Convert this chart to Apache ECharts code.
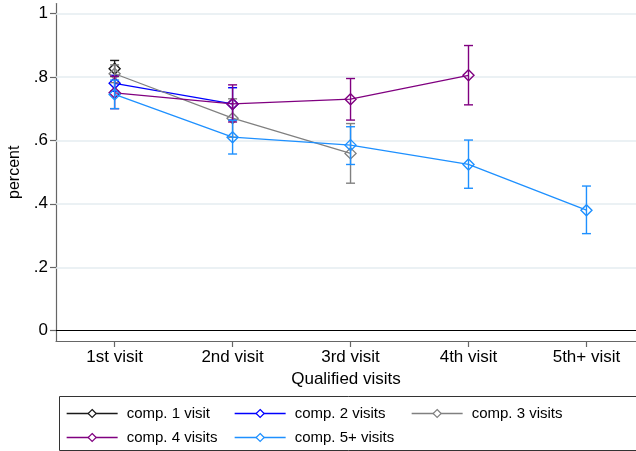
<!DOCTYPE html>
<html>
<head>
<meta charset="utf-8">
<script src="https://cdn.jsdelivr.net/npm/echarts@6/dist/echarts.min.js"></script>
<style>html,body{margin:0;padding:0;background:#fff;}#c{width:636px;height:451px;}</style>
</head>
<body>
<div id="c"></div>
<script>
const categories = ['1st visit', '2nd visit', '3rd visit', '4th visit', '5th+ visit'];
const yTicks = [0, 0.2, 0.4, 0.6, 0.8, 1];
const yTickLabels = ['0', '.2', '.4', '.6', '.8', '1'];

const seriesNames = ['comp. 1 visit', 'comp. 2 visits', 'comp. 3 visits', 'comp. 4 visits', 'comp. 5+ visits'];
const seriesColors = ['#1a1a1a', '#0000ff', '#808080', '#800080', '#1e90ff'];

const comp1 = [0.826];
const comp1Lo = [0.800];
const comp1Hi = [0.852];

const comp2 = [0.780, 0.715];
const comp2Lo = [0.755, 0.664];
const comp2Hi = [0.805, 0.766];

const comp3 = [0.810, 0.670, 0.559];
const comp3Lo = [0.782, 0.610, 0.465];
const comp3Hi = [0.838, 0.731, 0.653];

const comp4 = [0.750, 0.715, 0.730, 0.805];
const comp4Lo = [0.700, 0.658, 0.664, 0.712];
const comp4Hi = [0.802, 0.775, 0.795, 0.899];

const comp5 = [0.745, 0.610, 0.585, 0.524, 0.380];
const comp5Lo = [0.700, 0.557, 0.524, 0.449, 0.306];
const comp5Hi = [0.790, 0.663, 0.643, 0.601, 0.456];

const means = [comp1, comp2, comp3, comp4, comp5];
const lows = [comp1Lo, comp2Lo, comp3Lo, comp4Lo, comp5Lo];
const highs = [comp1Hi, comp2Hi, comp3Hi, comp4Hi, comp5Hi];

const FONT = 'Liberation Sans, Arial, sans-serif';
const chart = echarts.init(document.getElementById('c'), null, {renderer: 'canvas'});

const series = [];
series.push({
  type: 'line', data: [], silent: true, z: 1, symbol: 'none',
  markLine: {
    silent: true, symbol: 'none', label: {show: false},
    data: yTicks.map(v => ({yAxis: v, lineStyle: {color: v === 0 ? '#000' : '#e4edf0', width: v === 0 ? 1.2 : 1.5, type: 'solid'}}))
  }
});

for (let s = 0; s < 5; s++) {
  const col = seriesColors[s];
  series.push({
    name: seriesNames[s], type: 'line', z: 3 + s * 2,
    data: means[s].map((v, i) => [i + 1, v]),
    symbol: 'diamond', symbolSize: [11, 11],
    lineStyle: {color: col, width: 1.3},
    itemStyle: {color: 'transparent', borderColor: col, borderWidth: 1.4},
    emphasis: {disabled: true}
  });
  series.push({
    name: seriesNames[s] + ' ci', type: 'custom', z: 4 + s * 2, silent: true,
    data: means[s].map((v, i) => [i + 1, lows[s][i], highs[s][i]]),
    renderItem: function (params, api) {
      const x = api.value(0);
      const p1 = api.coord([x, api.value(1)]);
      const p2 = api.coord([x, api.value(2)]);
      const hw = 4.5;
      const st = {stroke: col, lineWidth: 1.4};
      return {type: 'group', children: [
        {type: 'line', shape: {x1: p1[0], y1: p1[1], x2: p2[0], y2: p2[1]}, style: st},
        {type: 'line', shape: {x1: p1[0] - hw, y1: p1[1], x2: p1[0] + hw, y2: p1[1]}, style: st},
        {type: 'line', shape: {x1: p2[0] - hw, y1: p2[1], x2: p2[0] + hw, y2: p2[1]}, style: st}
      ]};
    },
    encode: {x: 0, y: [1, 2]}
  });
}

const legendPos = [
  {left: 66, top: 406}, {left: 234, top: 406}, {left: 411, top: 406},
  {left: 66, top: 430}, {left: 234, top: 430}
];
const legends = seriesNames.map((n, i) => ({
  data: [n], left: legendPos[i].left, top: legendPos[i].top, padding: 0,
  orient: 'horizontal', itemWidth: 51, itemHeight: 10, selectedMode: false,
  itemStyle: {color: '#ffffff', borderColor: seriesColors[i], borderWidth: 1.2},
  lineStyle: {width: 1.3, color: seriesColors[i]},
  textStyle: {fontFamily: FONT, fontSize: 15, color: '#000', padding: [0, 0, 0, 4]}
}));

chart.setOption({
  animation: false,
  backgroundColor: '#fff',
  grid: {left: 56, right: 0, top: 3.5, bottom: 110, containLabel: false, outerBoundsMode: 'none'},
  xAxis: {
    type: 'value', min: 0.503, max: 5.42,
    axisLine: {show: true, onZero: false, lineStyle: {color: '#666', width: 1.2}},
    axisTick: {show: true, customValues: [1, 2, 3, 4, 5], length: 6, lineStyle: {color: '#666', width: 1.2}},
    axisLabel: {customValues: [1, 2, 3, 4, 5], formatter: v => categories[Math.round(v) - 1], fontFamily: FONT, fontSize: 17, color: '#000', margin: 8},
    splitLine: {show: false},
    name: 'Qualified visits', nameLocation: 'middle', nameGap: 25,
    nameTextStyle: {fontFamily: FONT, fontSize: 17, color: '#000'}
  },
  yAxis: {
    type: 'value', min: -0.0325, max: 1.0315,
    axisLine: {show: true, onZero: false, lineStyle: {color: '#666', width: 1.2}},
    axisTick: {show: true, customValues: yTicks, length: 6, lineStyle: {color: '#666', width: 1.2}},
    axisLabel: {customValues: yTicks, formatter: v => yTickLabels[yTicks.indexOf(Math.round(v * 10) / 10)] ?? '', fontFamily: FONT, fontSize: 17, color: '#000', margin: 8},
    splitLine: {show: false},
    name: 'percent', nameLocation: 'middle', nameGap: 30, nameRotate: 90,
    nameTextStyle: {fontFamily: FONT, fontSize: 16, color: '#000'}
  },
  legend: legends,
  graphic: [{
    type: 'rect', shape: {x: 59.5, y: 396.5, width: 600, height: 54},
    style: {fill: 'none', stroke: '#333', lineWidth: 1}, silent: true, z: 100
  }],
  series: series
});
</script>
</body>
</html>
